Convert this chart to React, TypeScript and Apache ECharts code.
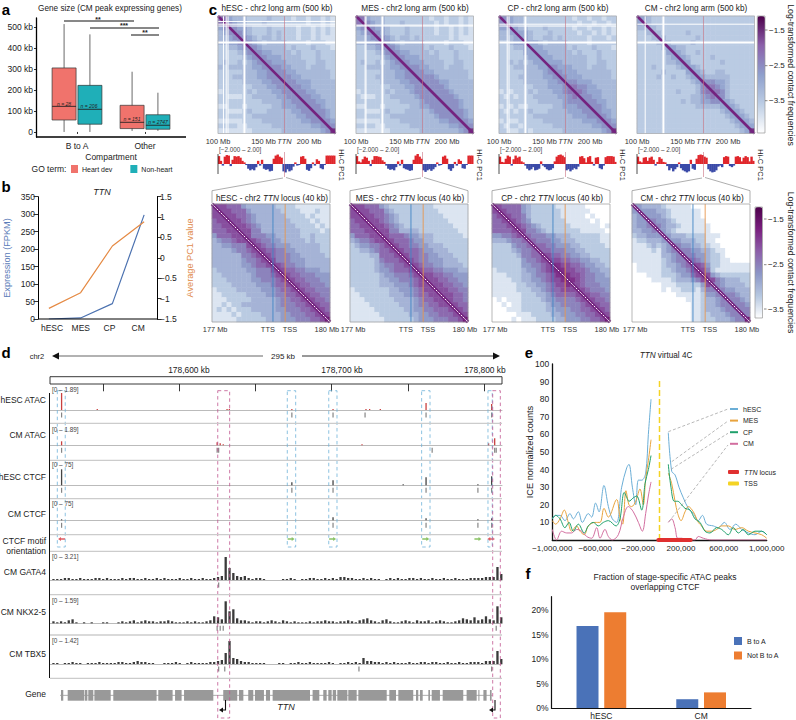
import React, { useEffect, useRef } from "react";
import * as echarts from "echarts";

const F = '"Liberation Sans", Arial, sans-serif';

// ---------- panel a
const compartments = ["B to A", "Other"];
const heartDevBoxes = [[0, 0, 57, 122, 305, 514], [1, 5, 16, 46, 127, 287]];
const nonHeartBoxes = [[0, 0, 37, 108, 222, 465], [1, 5, 13, 32, 82, 187]];
const sizeTicks = [0, 100, 200, 300, 400, 500];

// ---------- panel b
const stages = ["hESC", "MES", "CP", "CM"];
const expressionFpkm = [0, 3, 44, 298];
const averagePc1 = [-1.24, -0.855, 0.29, 0.885];

// ---------- panel c: contact maps, upper triangles, one digit per bin (0 palest, 9 darkest)
const hescArm = ["864333222232222122122121","85433222322222222122121","7544322232222212212121","854322232322212212121","75432332322212212111","8543233332222122211","854333332322232221","85443333232223222","8544433332223222","854443333223322","85544333233322","8554433333332","855443333332","85544433333","8554433333","855443333","85544333","8554433","855433","85543","8543","854","85","8"];
const mesArm = ["864333222222222122122121","85433222322222212122121","7544322232222212212121","854322232222212212121","75432332322222212111","8543233332222122211","854333332322232221","85443333232223222","8544433332223222","854443333223322","85544333233322","8554433333332","855543333332","85554433333","8555433333","855543333","85554333","8555433","855433","85543","8543","854","85","8"];
const cpArm = ["854332222222222122122122","74332222222222212212212","7433222322222122122121","844322232222212212121","64322332322222122212","8443233332222122222","844333332322232221","84433333232223222","8443333333223222","844433333223322","85444333233322","8544433333332","854443333332","85544433333","8655443333","865444333","85544333","8554433","855433","85443","8543","854","85","8"];
const cmArm = ["743222222222222222222222","63222222222222222222222","7322222222222222222222","732222232222222222222","63222222322222222222","7322223222222222222","843322222222222222","84322322222222222","8432222322222222","842222223222222","84322222222222","8432233222222","843333322222","85544322222","8654322222","865322222","85322222","8432222","843222","84322","8432","843","84","8"];
const hescLocus = ["977666433333322221111111","97766643333332222111211","9776654333333222212111","977654333333322221211","97765433333332222121","9775533333333222212","975554433333223222","97655443333323222","9765544433333322","976655443333322","97655544333332","9755544433333","976554433333","97665544433","9766555444","976655544","97665554","9766555","976655","97665","9766","976","97","9"];
const mesLocus = ["977666432222222221111111","97766643222222222111111","9776654322222222211111","977654322222222221111","97765432222222222111","9775533332222222211","976665443332222221","97666544332222222","9766554433322222","976665443332222","97665544333222","9765544433322","976554433332","97665544433","9776655444","977665544","97766554","9776655","977665","97665","9766","976","97","9"];
const cpLocus = ["976666432222211111100000","97666432222221111110000","9766532222221111101000","976542222222111110100","97654322222211111101","9755432222222111110","965554433322222211","96555443332222211","9665544433222221","966555443322222","97665544332222","9776655443322","987766544332","98776654433","9877655443","987655444","97655544","9765554","976655","97665","9766","976","97","9"];
const cmLocus = ["943333211111000000000000","94443321111110000000000","9444321111110000000000","954432111111000000000","95433211111100000000","9432111111100000000","943332222111000000","94433322110000000","9544332211000000","955443321100000","95544322100000","9654322110000","976422111111","97521111111","9743222222","975433322","95433332","9544333","955433","95543","9554","955","95","9"];
const armGapsMb = [[106, 109, 111, 129], [110, 111, 129], [109, 111, 129], [109, 129]];
const armLabels = ["100 Mb", "150 Mb", "{i|TTN}", "200 Mb"];
const armLabelValues = [100, 150, 173, 200];
const locusLabels = ["177 Mb", "TTS", "TSS", "180 Mb"];
const locusLabelValues = [177.08, 178.42, 178.98, 179.92];
const ttnArmMb = 173;
const ttsMb = 178.55;
const tssMb = 178.86;
const pc1Hesc = [15,6,-3,14,17,16,-4,8,15,14,15,12,6,3,-2,-9,-12,-10,-12,-6,6,-3,8,-9,-11,-10,-14,-13,10,16,18,14,12,-14,-16,-10,-14,-12,-5,3,-3,-2,14,15,10,-11,-13,-8,3,-3,9,6,-8,-10,-2,16,16,16,16,16];
const pc1Mes = [15,5,3,9,14,12,6,-4,8,15,15,14,13,7,4,-3,-9,-11,-10,-12,-6,5,-3,8,-8,-10,-11,-13,-12,8,16,19,14,10,-12,-15,-12,-10,-13,-10,-6,3,-3,-2,14,16,10,-10,-13,-8,4,-3,9,6,-8,-9,-2,16,16,16];
const pc1Cp = [14,4,3,10,16,14,-3,9,16,12,14,5,3,-3,-9,-12,-10,-6,-12,-11,-9,5,-3,-6,-10,-12,-11,-8,5,14,17,18,16,13,-12,-10,-14,-11,-8,-10,-5,14,15,11,3,13,15,4,-3,12,13,-8,-10,-3,13,15,15,15,14,4];
const pc1Cm = [14,5,3,12,13,6,12,14,8,-3,4,13,10,4,3,-4,-12,-8,-14,-10,-6,3,-8,-12,-14,-16,-14,8,-9,-11,10,17,18,17,14,12,-10,-14,-16,-15,-12,-5,-3,-6,13,15,14,-4,-6,-3,14,15,13,5,12,15,13,5,14,6];

// ---------- panel d: genome browser (kb)
const genomeMinKb = 178515.4;
const genomeMaxKb = 178811.8;
const rulerTicksKb = [178550, 178600, 178650, 178700, 178750, 178800];
const rulerLabelValues = [178606.5, 178706.9, 178800.6];
const rulerLabels = ["178,600 kb", "178,700 kb", "178,800 kb"];
const hescAtacPeaks = [[178523, 17], [178546.4, 1], [178631.5, 1], [178633, 1], [178674, 1], [178701, 1], [178722.6, 1], [178725, 1], [178732, 1], [178762, 7], [178805, 6]];
const cmAtacPeaks = [[178523, 4], [178625, 3], [178627, 2], [178629, 1], [178720, 1], [178803, 2], [178807, 7]];
const hescCtcfPeaks = [[178523, 16], [178674, 3], [178701, 5], [178762, 8], [178747, 1], [178796, 1], [178805, 9]];
const cmCtcfPeaks = [[178523, 1], [178701, 3], [178762, 2], [178796, 1], [178805, 2]];
const hescAtacCalls = [178523, 178674, 178701, 178722, 178762, 178805];
const cmAtacCalls = [178523, 178625, 178626, 178766, 178807, 178808];
const hescCtcfCalls = [178523, 178674, 178701, 178762, 178796, 178805];
const cmCtcfCalls = [178523, 178701, 178762, 178796, 178805];
const gata4Calls = [178626];
const nkxCalls = [178625, 178627, 178629, 178808];
const tbx5Calls = [178626, 178630, 178718, 178805];
const motifForwardKb = [178673.5, 178700.7, 178761.8, 178796];
const motifReverseKb = [178523, 178804.5];
const trackStepKb = 2.51;
const gata4Signal = [1,1,1,2,2,1,1,2,1,1,1,2,2,1,2,1,1,1,2,1,2,2,1,1,2,1,1,2,1,2,1,1,1,2,1,1,2,1,1,2,1,1,2,3,4,23,12,7,4,3,4,2,1,2,2,1,0,0,0,0,1,1,2,1,0,1,1,2,2,1,1,2,1,2,1,3,3,2,2,1,1,2,1,2,1,1,0,1,2,1,2,1,1,2,2,1,2,1,1,2,1,1,2,1,1,2,1,1,1,2,2,2,2,3,3,3,13,6];
const nkxSignal = [2,1,2,1,3,4,1,0,1,0,1,0,0,1,1,0,0,1,2,1,2,3,1,2,3,2,2,1,2,2,3,2,1,1,1,2,1,2,1,1,2,3,7,6,4,22,12,14,5,3,3,2,1,2,2,1,2,3,2,1,3,2,1,2,1,1,1,2,1,2,2,3,2,2,1,2,2,3,2,1,3,4,5,3,2,1,3,4,2,1,1,2,3,2,1,3,2,2,3,1,2,3,2,1,1,2,3,5,4,3,6,3,4,7,4,3,17,6];
const tbx5Signal = [1,1,0,1,1,2,1,1,0,1,1,1,2,1,1,1,1,2,2,1,1,2,3,2,2,1,1,0,0,1,1,1,2,1,0,1,2,1,1,1,1,2,2,3,4,11,23,6,5,3,2,2,1,1,1,1,0,0,0,1,1,0,1,1,2,1,1,2,1,1,1,1,2,1,0,1,1,2,1,2,1,6,3,3,2,2,1,2,1,2,1,1,1,2,1,1,2,2,1,2,2,1,1,2,1,1,2,1,1,2,2,2,1,3,3,3,13,5];
const ttnExonsKb = [[178522.6,178524.1],[178527,178537.9],[178538.3,178539.9],[178540.5,178543.8],[178544.5,178555.2],[178556.9,178585.3],[178586.4,178595.8],[178597.4,178601.7],[178603.3,178622.5],[178629,178638.2],[178639.3,178642.2],[178645.4,178648.7],[178649.8,178655.7],[178657,178659.7],[178661.4,178685.9],[178687.6,178692],[178694.6,178696.8],[178697.9,178700.1],[178700.8,178703],[178703.8,178710.4],[178711,178716.5],[178717.6,178736.2],[178737.9,178742.3],[178743.8,178753.6],[178755.4,178756.9],[178758,178759.8],[178763.5,178764.6],[178765.7,178771.1],[178772.9,178786.4],[178788.6,178795.2],[178796.3,178797],[178799.6,178801.7],[178803.9,178805]];
const ttnSpanKb = [178522, 178805.5];
const ctcfBoxesKb = [[178520.2,178525.4],[178671,178676.5],[178698.2,178703.6],[178759.1,178764.6],[178802.6,178805.4]];
const enhancerBoxesKb = [[178625.4,178633.2],[178805.7,178810.7]];

// ---------- panel e (x in kb from the TSS)
const hescLeft = [[-1000,12],[-969,14],[-928,14],[-882,11],[-835,15],[-804,12],[-757,16],[-720,10],[-664,15],[-633,13],[-596,21],[-564,16],[-518,31],[-477,19],[-440,12],[-400,10],[-353,30],[-306,41],[-285,43],[-253,30],[-222,20],[-197,34],[-166,34],[-129,38],[-104,60],[-79,80]];
const hescRight = [[82,61],[114,39],[145,37],[182,30],[222,24],[269,18],[316,15],[362,11],[400,14],[440,9],[502,8],[549,7],[605,10],[658,6],[711,9],[767,6],[829,4],[891,3],[953,5],[1000,3]];
const mesLeft = [[-1000,11],[-969,9],[-928,12],[-888,17],[-851,10],[-820,5],[-773,8],[-742,5],[-702,3],[-664,8],[-602,10],[-555,10],[-518,18],[-477,13],[-400,23],[-369,13],[-344,9],[-313,28],[-285,20],[-260,19],[-222,22],[-182,29],[-151,20],[-129,35],[-104,45],[-79,57]];
const mesRight = [[82,38],[114,32],[145,22],[170,15],[201,11],[238,16],[269,19],[316,16],[362,10],[393,8],[440,5],[487,5],[533,6],[580,8],[642,8],[704,6],[767,7],[829,5],[891,4],[953,3],[1000,1]];
const cpLeft = [[-1000,12],[-969,14],[-928,12],[-882,7],[-844,10],[-804,5],[-757,9],[-702,4],[-664,8],[-618,10],[-571,8],[-524,10],[-477,11],[-406,8],[-369,12],[-329,27],[-297,23],[-285,22],[-244,24],[-213,25],[-166,17],[-135,32],[-104,40],[-79,48]];
const cpRight = [[82,43],[107,30],[138,22],[170,22],[207,20],[238,18],[285,17],[331,12],[378,10],[424,5],[471,4],[533,7],[580,6],[642,3],[689,7],[736,4],[782,6],[829,3],[891,5],[953,5],[1000,3]];
const cmLeft = [[-1000,6],[-960,0],[-913,5],[-866,4],[-820,4],[-773,6],[-726,5],[-680,2],[-633,1],[-586,7],[-555,1],[-509,6],[-477,2],[-440,0],[-384,3],[-338,13],[-291,19],[-244,16],[-197,10],[-160,5],[-129,15],[-104,25],[-79,33]];
const cmRight = [[82,10],[114,12],[145,7],[170,1],[207,1],[254,0],[331,0],[362,2],[409,1],[487,0],[1000,0]];
const locusSpanKb = [-11, 291];
const tssLineMax = 90.5;
const e4cLabelValues = [-1000, -600, -200, 200, 600, 1000];

// ---------- panel f
const fGroups = ["hESC", "CM"];
const fBtoA = [16.8, 1.8];
const fNotBtoA = [19.6, 3.2];

const upperColors = ["#ffffff", "#bccde4", "#8e9fcc", "#8b60aa", "#4d004b"];
const lowerColors = ["#ffffff", "#b5c7e0", "#8c96c6", "#8c5fa9", "#7a1f7f", "#4d004b"];

function buildOption() {
  const grids: any[] = [], xAxes: any[] = [], yAxes: any[] = [], series: any[] = [], g: any[] = [];
  const italicRich = (size: number, color = "#222") => ({ i: { fontStyle: "italic", fontSize: size, fontFamily: F, fill: color, color } });

  const T = (x: number, y: number, text: string, size: number, o: any = {}) => g.push({
    type: "text", z: 100, silent: true, x, y, rotation: o.rot || 0,
    style: { text, fontSize: size, fontFamily: F, fill: o.color || "#222", align: o.align || "center", verticalAlign: "middle", fontStyle: o.style || "normal", fontWeight: o.weight || "normal", rich: o.rich ? italicRich(size, o.color || "#222") : undefined },
  });
  const L = (x1: number, y1: number, x2: number, y2: number, color = "#000", w = 1, dash?: number[]) => g.push({
    type: "line", z: 100, silent: true, shape: { x1, y1, x2, y2 }, style: { stroke: color, lineWidth: w, lineDash: dash },
  });
  const PL = (points: number[][], color = "#999", w = 0.8) => g.push({ type: "polyline", z: 100, silent: true, shape: { points }, style: { stroke: color, lineWidth: w, fill: "none" } });
  const PG = (points: number[][], color = "#000") => g.push({ type: "polygon", z: 100, silent: true, shape: { points }, style: { fill: color } });
  const R = (x: number, y: number, width: number, height: number, color = "#999", w = 0.7) => g.push({ type: "rect", z: 100, silent: true, shape: { x, y, width, height }, style: { fill: "none", stroke: color, lineWidth: w } });

  const grid = (left: number, top: number, width: number, height: number) => grids.push({ left, top, width, height, containLabel: false }) - 1;
  const noSplit = { splitLine: { show: false } };

  // panel letters
  T(6, 9, "a", 15, { weight: "bold", color: "#000" });
  T(6, 186, "b", 15, { weight: "bold", color: "#000" });
  T(213, 9, "c", 15, { weight: "bold", color: "#000" });
  T(6, 352, "d", 15, { weight: "bold", color: "#000" });
  T(529, 352, "e", 15, { weight: "bold", color: "#000" });
  T(528, 573, "f", 15, { weight: "bold", color: "#000" });

  // ---- a
  const ga = grid(43, 18, 136, 119);
  const xa = xAxes.push({ type: "category", gridIndex: ga, data: compartments, axisLine: { show: false }, axisTick: { show: true, alignWithLabel: true, length: 2, lineStyle: { color: "#000", width: 0.8 } }, axisLabel: { interval: 0, fontFamily: F, fontSize: 8.5, color: "#222", margin: 4 }, ...noSplit }) - 1;
  const ya = yAxes.push({ type: "value", gridIndex: ga, min: -24, max: 543, offset: 7, axisLine: { show: true, lineStyle: { color: "#000", width: 1.3 } }, axisTick: { show: true, customValues: sizeTicks, length: 2, lineStyle: { color: "#000", width: 0.8 } }, axisLabel: { customValues: sizeTicks, fontFamily: F, fontSize: 8.5, color: "#222", margin: 3, formatter: (v: number) => (v === 0 ? "0" : `${v} kb`) }, ...noSplit }) - 1;
  const boxSeries = (name: string, rows: number[][], color: string, sign: number) => series.push({
    type: "custom", name, xAxisIndex: xa, yAxisIndex: ya, data: rows, encode: { x: 0, y: [1, 2, 3, 4, 5] }, itemStyle: { color }, silent: true,
    renderItem: (_: any, api: any) => {
      const band = api.size([1, 0])[0];
      const cx = api.coord([api.value(0), 0])[0] + sign * 0.19 * band;
      const y = (i: number) => api.coord([0, api.value(i)])[1];
      const w = 24, s = { stroke: "#444", lineWidth: 0.8 };
      return { type: "group", children: [
        { type: "line", shape: { x1: cx, y1: y(1), x2: cx, y2: y(5) }, style: s },
        { type: "rect", shape: { x: cx - w / 2, y: y(4), width: w, height: y(2) - y(4) }, style: { fill: color, stroke: "#333", lineWidth: 0.7 } },
        { type: "line", shape: { x1: cx - w / 2, y1: y(3), x2: cx + w / 2, y2: y(3) }, style: { stroke: "#222", lineWidth: 0.9 } },
      ] };
    },
  });
  boxSeries("Heart dev", heartDevBoxes, "#F0736C", -1);
  boxSeries("Non-heart", nonHeartBoxes, "#1FAFB8", 1);
  L(36, 137, 186, 137, "#000", 1.3);
  T(110, 8, "Gene size (CM peak expressing genes)", 8.2);
  T(111, 157, "Compartment", 8.5);
  T(49, 169, "GO term:", 8.5);
  T(64, 104, "n = 28", 5, { style: "italic" });
  T(89, 106, "n = 206", 5, { style: "italic" });
  T(132, 119, "n = 151", 5, { style: "italic" });
  T(158, 122, "n = 2747", 5, { style: "italic" });
  L(64, 21, 134, 21, "#111", 1); T(98, 19, "**", 7, { weight: "bold" });
  L(90, 28, 159, 28, "#111", 1); T(124, 25, "***", 7, { weight: "bold" });
  L(131, 35, 159, 35, "#111", 1); T(145, 32, "**", 7, { weight: "bold" });

  // ---- b
  const gb = grid(33, 196.7, 127, 122.3);
  const xb = xAxes.push({ type: "category", gridIndex: gb, data: stages, axisLine: { show: false }, axisTick: { show: false }, axisLabel: { show: false }, ...noSplit }) - 1;
  const axisB = { type: "value", gridIndex: gb, axisLine: { show: true, lineStyle: { color: "#000", width: 1 } }, axisTick: { show: true, length: 4.5, lineStyle: { color: "#000", width: 0.8 } }, ...noSplit };
  const yb1 = yAxes.push({ ...axisB, min: 0, max: 350, interval: 50, offset: -5, axisLabel: { fontFamily: F, fontSize: 8.5, color: "#222", margin: 3 } }) - 1;
  const yb2 = yAxes.push({ ...axisB, position: "right", min: -1.5, max: 1.5, interval: 0.5, offset: -3, axisLabel: { fontFamily: F, fontSize: 8.5, color: "#222", margin: 3, formatter: (v: number) => String(v).replace("-", "−") } }) - 1;
  series.push({ type: "line", xAxisIndex: xb, yAxisIndex: yb1, data: expressionFpkm, symbol: "none", lineStyle: { color: "#4C72B0", width: 1.2 }, silent: true });
  series.push({ type: "line", xAxisIndex: xb, yAxisIndex: yb2, data: averagePc1, symbol: "none", lineStyle: { color: "#E58A44", width: 1.2 }, silent: true });
  const gbl = grid(37.7, 196.7, 114.8, 122.3);
  xAxes.push({ type: "category", gridIndex: gbl, data: stages, axisLine: { show: false }, axisTick: { show: false }, axisLabel: { interval: 0, fontFamily: F, fontSize: 8.5, color: "#222", margin: 4 }, ...noSplit });
  yAxes.push({ type: "value", gridIndex: gbl, show: false, ...noSplit });
  L(38, 319, 157, 319, "#000", 1);
  T(102, 192, "TTN", 9, { style: "italic" });
  T(7, 258, "Expression (FPKM)", 9.2, { rot: Math.PI / 2, color: "#5B7CB8" });
  T(190, 258, "Average PC1 value", 9.2, { rot: Math.PI / 2, color: "#E08C4E" });

  // ---- c helpers
  const upperIdx: number[] = [], lowerIdx: number[] = [];
  const bins = Array.from({ length: 24 }, (_, i) => String(i));
  const decode = (rows: string[], v0: number, step: number) => {
    const out: number[][] = [];
    rows.forEach((row, i) => {
      for (let k = 0; k < row.length; k++) {
        // the diagonal itself is drawn as a line; its bin takes the tone of its neighbour
        const digit = k === 0 && row.length > 1 ? row[1] : row[k];
        const val = v0 + Number(digit) * step;
        out.push([i + k, i, val]);
        if (k) out.push([i, i + k, val]);
      }
    });
    return out;
  };
  const addMap = (left: number, top: number, size: number, rows: string[], dmin: number, dmax: number, customValues: number[], labels: string[], v0: number, step: number, bucket: number[]) => {
    const gi = grid(left, top, size, size);
    const xc = xAxes.push({ type: "category", gridIndex: gi, show: false, data: bins }) - 1;
    const yc = yAxes.push({ type: "category", gridIndex: gi, show: false, inverse: true, data: bins }) - 1;
    const xv = xAxes.push({ type: "value", gridIndex: gi, min: dmin, max: dmax, position: "bottom", axisLine: { show: false }, axisTick: { show: false }, ...noSplit,
      axisLabel: { customValues, fontFamily: F, fontSize: 7.4, color: "#333", margin: 4, hideOverlap: false, rich: { i: { fontStyle: "italic", fontSize: 7.4, fontFamily: F, color: "#333" } }, formatter: (v: number) => labels[customValues.indexOf(v)] ?? "" } }) - 1;
    const yv = yAxes.push({ type: "value", gridIndex: gi, min: dmin, max: dmax, inverse: true, show: false, ...noSplit }) - 1;
    bucket.push(series.push({ type: "heatmap", xAxisIndex: xc, yAxisIndex: yc, data: decode(rows, v0, step), silent: true, progressive: 0, itemStyle: { borderWidth: 0 } }) - 1);
    series.push({ type: "line", xAxisIndex: xv, yAxisIndex: yv, data: [[dmin, dmin], [dmax, dmax]], symbol: "none", lineStyle: { color: "#74237F", width: bucket === upperIdx ? 2.6 : 3.6 }, silent: true });
    return { xv, yv };
  };
  const vline = (ax: any, name: string, value: number, a: number, b: number, color: string, width: number) => series.push({ type: "line", xAxisIndex: ax.xv, yAxisIndex: ax.yv, data: [[value, a], [value, b]], symbol: "none", lineStyle: { color, width }, silent: true });
  const hline = (ax: any, value: number, a: number, b: number, color: string, width: number) => series.push({ type: "line", xAxisIndex: ax.xv, yAxisIndex: ax.yv, data: [[a, value], [b, value]], symbol: "none", lineStyle: { color, width }, silent: true });

  const armPanels = [
    { name: "hESC", left: 218, rows: hescArm, pc1: pc1Hesc },
    { name: "MES", left: 356, rows: mesArm, pc1: pc1Mes },
    { name: "CP", left: 499, rows: cpArm, pc1: pc1Cp },
    { name: "CM", left: 637, rows: cmArm, pc1: pc1Cm },
  ];
  armPanels.forEach((p, idx) => {
    const ax = addMap(p.left, 16, 117.5, p.rows, 100, 229, armLabelValues, armLabels, -4.2, 0.33, upperIdx);
    armGapsMb[idx].forEach((m) => {
      const w = m === 129 ? 2 : 1;
      vline(ax, "", m, 100, 229, "#ffffff", w);
      hline(ax, m, 100, 229, "#ffffff", w);
    });
    vline(ax, "", ttnArmMb, 100, 229, "#C9707F", 0.6);
    R(p.left, 16, 117.5, 117.5, "#aaa");
    T(p.left + 59, 8.3, `${p.name} - chr2 long arm (500 kb)`, 8.2);
    T(p.left + 1, 149, "[−2.000 – 2.00]", 6.3, { align: "left", color: "#444" });
    // PC1
    const gt = grid(p.left, 154, 117.5, 20);
    const xt = xAxes.push({ type: "category", gridIndex: gt, show: false, data: p.pc1.map((_, i) => String(i)) }) - 1;
    const yt = yAxes.push({ type: "value", gridIndex: gt, show: false, min: -1.9, max: 1.9, ...noSplit }) - 1;
    series.push({ type: "bar", xAxisIndex: xt, yAxisIndex: yt, data: p.pc1.map((v) => v / 10), barWidth: 2.4, silent: true, itemStyle: { color: (d: any) => (d.value > 0 ? "#E0262B" : "#3A4AA8") } });
    L(p.left, 154, p.left, 174, "#222", 0.8);
    L(p.left + 66.5, 152, p.left + 66.5, 177, "#C9707F", 0.6);
    T(p.left + 123.5, 165, "Hi-C PC1", 7.5, { rot: -Math.PI / 2 });
  });

  const locusPanels = [
    { name: "hESC", left: 212, rows: hescLocus },
    { name: "MES", left: 350, rows: mesLocus },
    { name: "CP", left: 492, rows: cpLocus },
    { name: "CM", left: 632, rows: cmLocus },
  ];
  locusPanels.forEach((p) => {
    const ax = addMap(p.left, 204, 118, p.rows, 177, 180, locusLabelValues, locusLabels, -3.7, 0.23, lowerIdx);
    series.push({ type: "line", xAxisIndex: ax.xv, yAxisIndex: ax.yv, data: [[177, 177], [180, 180]], symbol: "none", lineStyle: { color: "#ffffff", width: 1, type: [2, 1.2] }, silent: true });
    vline(ax, "", ttsMb, 177, 180, "#3F86C4", 0.9);
    vline(ax, "", tssMb, 177, 180, "#E8964F", 0.9);
    R(p.left, 204, 118, 118, "#999");
    T(p.left + 60, 198, `${p.name} - chr2 {i|TTN} locus (40 kb)`, 8.2, { rich: true });
    const tip = armPanels[locusPanels.indexOf(p)].left + 66.5;
    PL([[p.left, 203], [p.left, 190.7], [tip - 1.5, 178]]);
    PL([[p.left + 118, 203], [p.left + 118, 190.7], [tip + 1.5, 177.5]]);
  });

  // colour bars
  const cbTick = (x: number, y: number, t: string) => { L(x - 3, y, x - 0.5, y, "#555", 0.7); T(x + 1, y, t, 8, { align: "left" }); };
  R(757.3, 16, 7.7, 117, "#999");
  cbTick(768, 30, "−1.5"); cbTick(768, 65.7, "−2.5"); cbTick(768, 100.7, "−3.5");
  T(791, 75, "Log-transformed contact frequencies", 8.7, { rot: -Math.PI / 2 });
  R(755, 207, 7.5, 111, "#999");
  cbTick(767, 219, "−1.5"); cbTick(767, 264.7, "−2.5"); cbTick(767, 309, "−3.5");
  T(791, 262.5, "Log-transformed contact frequencies", 8.7, { rot: -Math.PI / 2 });

  // ---- d
  const dL = 50, dW = 452;
  T(37, 356, "chr2", 7.5);
  L(56, 356, 263, 356, "#666", 1.2); PG([[52, 356], [59, 352.5], [59, 359.5]], "#111");
  T(283, 356, "295 kb", 8);
  L(302, 356, 495, 356, "#333", 1); PG([[500, 356], [493, 352.5], [493, 359.5]], "#111");

  const gr = grid(dL, 376.7, dW, 7.3);
  grids[gr].show = true; grids[gr].borderColor = "#222"; grids[gr].borderWidth = 0.9;
  xAxes.push({ type: "value", gridIndex: gr, min: genomeMinKb, max: genomeMaxKb, position: "top", axisLine: { show: false }, axisTick: { show: true, customValues: rulerTicksKb, inside: true, length: 7.3, lineStyle: { color: "#222", width: 0.9 } }, ...noSplit,
    axisLabel: { customValues: rulerLabelValues, fontFamily: F, fontSize: 8.4, color: "#222", margin: 3, hideOverlap: false, formatter: (v: number) => rulerLabels[rulerLabelValues.indexOf(v)] ?? "" } });
  yAxes.push({ type: "value", gridIndex: gr, show: false, ...noSplit });

  const track = (top: number, base: number, bottom: number, showBase = true) => {
    const gi = grid(dL, top, dW, bottom - top);
    const x = xAxes.push({ type: "value", gridIndex: gi, min: genomeMinKb, max: genomeMaxKb, axisLine: { show: showBase, onZero: true, lineStyle: { color: "#bbb", width: 1 } }, axisTick: { show: false }, axisLabel: { show: false }, ...noSplit }) - 1;
    const y = yAxes.push({ type: "value", gridIndex: gi, show: false, min: -(bottom - base), max: base - top, ...noSplit }) - 1;
    return { x, y };
  };
  const bars = (t: any, data: number[][], color: string, w: number) => series.push({ type: "bar", xAxisIndex: t.x, yAxisIndex: t.y, data, barWidth: w, silent: true, itemStyle: { color }, clip: false });
  const calls = (t: any, kb: number[]) => series.push({ type: "scatter", xAxisIndex: t.x, yAxisIndex: t.y, data: kb.map((k) => [k, -5]), symbol: "rect", symbolSize: [1.2, 5], silent: true, itemStyle: { color: "#666" } });
  const dense = (v: number[]) => v.map((h, i) => [genomeMinKb + (i + 0.9) * trackStepKb, h]);

  const t1 = track(392, 410, 420); bars(t1, hescAtacPeaks, "#C9403F", 1.3); calls(t1, hescAtacCalls);
  const t2 = track(432, 445.3, 455); bars(t2, cmAtacPeaks, "#C9403F", 1.3); calls(t2, cmAtacCalls);
  const t3 = track(466, 485.3, 495); bars(t3, hescCtcfPeaks, "#444", 1.3); calls(t3, hescCtcfCalls);
  const t4 = track(505, 520.3, 530); bars(t4, cmCtcfPeaks, "#444", 1.3); calls(t4, cmCtcfCalls);
  const t5 = track(534, 539, 546, false);
  const arrowPath = "path://M0 3H7V0L12 5L7 10V7H0Z";
  series.push({ type: "scatter", xAxisIndex: t5.x, yAxisIndex: t5.y, data: motifForwardKb.map((k) => [k, 0]), symbol: arrowPath, symbolSize: [7, 4], silent: true, itemStyle: { color: "#6DB33F" } });
  series.push({ type: "scatter", xAxisIndex: t5.x, yAxisIndex: t5.y, data: motifReverseKb.map((k) => [k, 0]), symbol: arrowPath, symbolRotate: 180, symbolSize: [7, 4], silent: true, itemStyle: { color: "#D8323A" } });
  const t6 = track(557, 580, 590); bars(t6, dense(gata4Signal), "#3a3a3a", 2.3); calls(t6, gata4Calls);
  const t7 = track(601, 623.3, 633); bars(t7, dense(nkxSignal), "#3a3a3a", 2.3); calls(t7, nkxCalls);
  const t8 = track(641, 664, 674); bars(t8, dense(tbx5Signal), "#3a3a3a", 2.3); calls(t8, tbx5Calls);

  const t9g = grid(dL, 690, dW, 10.7);
  const t9x = xAxes.push({ type: "value", gridIndex: t9g, min: genomeMinKb, max: genomeMaxKb, show: false, ...noSplit }) - 1;
  const t9y = yAxes.push({ type: "value", gridIndex: t9g, min: 0, max: 1, show: false, ...noSplit }) - 1;
  series.push({ type: "line", xAxisIndex: t9x, yAxisIndex: t9y, data: ttnSpanKb.map((k) => [k, 0.5]), symbol: "none", silent: true, lineStyle: { color: "#999", width: 0.8 } });
  series.push({ type: "custom", xAxisIndex: t9x, yAxisIndex: t9y, data: ttnExonsKb, silent: true, encode: { x: [0, 1] },
    renderItem: (_: any, api: any) => {
      const a = api.coord([api.value(0), 1]), b = api.coord([api.value(1), 0]);
      return { type: "rect", shape: { x: a[0], y: a[1], width: Math.max(b[0] - a[0], 0.8), height: b[1] - a[1] }, style: { fill: "#999" } };
    } });

  const dashedBoxes = (top: number, bottom: number, rows: number[][], stroke: string) => {
    const gi = grid(dL, top, dW, bottom - top);
    const x = xAxes.push({ type: "value", gridIndex: gi, min: genomeMinKb, max: genomeMaxKb, show: false, ...noSplit }) - 1;
    const y = yAxes.push({ type: "value", gridIndex: gi, min: 0, max: 1, show: false, ...noSplit }) - 1;
    series.push({ type: "custom", xAxisIndex: x, yAxisIndex: y, data: rows, silent: true, z: 8, encode: { x: [0, 1] },
      renderItem: (_: any, api: any) => {
        const a = api.coord([api.value(0), 1]), b = api.coord([api.value(1), 0]);
        return { type: "rect", shape: { x: a[0], y: a[1], width: b[0] - a[0], height: b[1] - a[1] }, style: { fill: "none", stroke, lineWidth: 0.8, lineDash: [3.5, 3] } };
      } });
  };
  dashedBoxes(390.7, 547, ctcfBoxesKb, "#6FB3D9");
  dashedBoxes(390.7, 718, enhancerBoxesKb, "#C0558F");

  [["hESC ATAC", 400], ["CM ATAC", 435], ["hESC CTCF", 477], ["CM CTCF", 514.3], ["CTCF motif", 541], ["orientation", 551], ["CM GATA4", 572], ["CM NKX2-5", 612], ["CM TBX5", 654], ["Gene", 694]].forEach(([t, y]) => T(46, y as number, t as string, 8.5, { align: "right" }));
  [["[0 – 1.89]", 389], ["[0 – 1.89]", 429.3], ["[0 – 75]", 464.3], ["[0 – 75]", 503.7], ["[0 – 3.21]", 556.7], ["[0 – 1.59]", 600], ["[0 – 1.42]", 640]].forEach(([t, y]) => T(52, y as number, t as string, 6.4, { align: "left", color: "#444" }));
  L(49.5, 393, 49.5, 678, "#111", 1);
  [423.3, 460.3, 498.7, 534.7, 551.3, 594.7, 635, 678.3].forEach((y) => L(50, y, 502, y, "#ccc", 1.3));
  T(286, 707, "TTN", 9, { style: "italic" });
  [[225.5, 219], [495, 489]].forEach(([x, xe]) => { PL([[x, 700], [x, 710], [xe + 3, 710]], "#111", 1.1); PG([[xe, 710], [xe + 4, 707.5], [xe + 4, 712.5]], "#111"); });

  // ---- e
  const ge = grid(552.3, 364, 214.4, 176);
  const xe = xAxes.push({ type: "value", gridIndex: ge, min: -1000, max: 1000, axisLine: { show: true, onZero: false, lineStyle: { color: "#111", width: 1.3 } }, axisTick: { show: false }, ...noSplit,
    axisLabel: { customValues: e4cLabelValues, fontFamily: F, fontSize: 8, color: "#222", margin: 4, hideOverlap: false, formatter: (v: number) => (v < 0 ? "−" : "") + Math.abs(v).toLocaleString("en-US") + ",000" } }) - 1;
  const ye = yAxes.push({ type: "value", gridIndex: ge, min: 0, max: 100, axisLine: { show: true, onZero: false, lineStyle: { color: "#111", width: 1.3 } }, axisTick: { show: false }, ...noSplit,
    axisLabel: { customValues: [10, 20, 30, 40, 50, 60, 70, 80, 90, 100], fontFamily: F, fontSize: 8.5, color: "#222", margin: 3 } }) - 1;
  const e4c = (name: string, data: number[][], color: string) => series.push({ type: "line", name, xAxisIndex: xe, yAxisIndex: ye, data, smooth: 0.35, symbol: "none", silent: true, itemStyle: { color }, lineStyle: { color, width: 1 } });
  e4c("hESC", hescLeft, "#6BAED6"); e4c("hESC", hescRight, "#6BAED6");
  e4c("MES", mesLeft, "#E8A33D"); e4c("MES", mesRight, "#E8A33D");
  e4c("CM", cmLeft, "#D26E9F"); e4c("CM", cmRight, "#D26E9F");
  e4c("CP", cpLeft, "#1FA06B"); e4c("CP", cpRight, "#1FA06B");
  series.push({ type: "line", name: "TTN locus", xAxisIndex: xe, yAxisIndex: ye, data: locusSpanKb.map((k) => [k, 0]), symbol: "none", silent: true, itemStyle: { color: "#E03030" }, lineStyle: { color: "#E03030", width: 4, cap: "round" }, clip: false, z: 5 });
  series.push({ type: "line", name: "TSS", xAxisIndex: xe, yAxisIndex: ye, data: [[0, 0], [0, tssLineMax]], symbol: "none", silent: true, itemStyle: { color: "#F4D324" }, lineStyle: { color: "#F4D324", width: 1.5, type: [6, 3] } });
  T(666, 355, "{i|TTN} virtual 4C", 8.2, { rich: true });
  T(530, 452, "ICE normalized counts", 9.2, { rot: Math.PI / 2 });
  const dash = [3, 2];
  L(668.3, 431.7, 728, 409, "#999", 0.7, dash);
  L(671.7, 461.7, 728, 421, "#999", 0.7, dash);
  L(671, 469.3, 728, 433.3, "#999", 0.7, dash);
  L(669, 521.7, 728, 445, "#999", 0.7, dash);

  // ---- f
  const gf = grid(551.5, 596.7, 199.5, 112.3);
  const xf = xAxes.push({ type: "category", gridIndex: gf, data: fGroups, axisLine: { show: true, lineStyle: { color: "#111", width: 1.2 } }, axisTick: { show: false }, axisLabel: { fontFamily: F, fontSize: 8.5, color: "#222", margin: 3 }, ...noSplit }) - 1;
  const yf = yAxes.push({ type: "value", gridIndex: gf, min: 0, max: 22.8, axisLine: { show: true, lineStyle: { color: "#111", width: 1.2 } }, axisTick: { show: false }, ...noSplit,
    axisLabel: { customValues: [0, 5, 10, 15, 20], fontFamily: F, fontSize: 8.5, color: "#222", margin: 3, formatter: (v: number) => `${v}%` } }) - 1;
  series.push({ type: "bar", name: "B to A", xAxisIndex: xf, yAxisIndex: yf, data: fBtoA, barWidth: 22, barGap: "26%", silent: true, itemStyle: { color: "#4A72B8" } });
  series.push({ type: "bar", name: "Not B to A", xAxisIndex: xf, yAxisIndex: yf, data: fNotBtoA, barWidth: 22, barGap: "26%", silent: true, itemStyle: { color: "#ED7D31" } });
  T(665, 576.7, "Fraction of stage-specific ATAC peaks", 8.5);
  T(665, 587.3, "overlapping CTCF", 8.5);

  const legendBase = { selectedMode: false, padding: 0, textStyle: { fontFamily: F, color: "#222" } };
  return {
    animation: false,
    backgroundColor: "#ffffff",
    grid: grids,
    xAxis: xAxes,
    yAxis: yAxes,
    series,
    graphic: { elements: g },
    legend: [
      { ...legendBase, data: ["Heart dev", "Non-heart"], left: 71, top: 165, orient: "horizontal", itemWidth: 7, itemHeight: 8, itemGap: 18, icon: "rect", textStyle: { fontFamily: F, color: "#222", fontSize: 7, padding: [0, 0, 0, -1] } },
      { ...legendBase, data: ["hESC", "MES", "CP", "CM"], left: 730, top: 405, orient: "vertical", itemWidth: 8, itemHeight: 2, itemGap: 3.6, icon: "rect", textStyle: { fontFamily: F, color: "#222", fontSize: 7, lineHeight: 8 } },
      { ...legendBase, data: ["TTN locus", "TSS"], left: 728, top: 468, orient: "vertical", itemWidth: 11, itemHeight: 4, itemGap: 3.6, icon: "roundRect", formatter: (n: string) => (n === "TTN locus" ? "{i|TTN} locus" : n), textStyle: { fontFamily: F, color: "#222", fontSize: 7, lineHeight: 8, rich: { i: { fontStyle: "italic", fontSize: 7, fontFamily: F, color: "#222" } } } },
      { ...legendBase, data: ["B to A", "Not B to A"], left: 734, top: 637, orient: "vertical", itemWidth: 8, itemHeight: 8, itemGap: 6.5, icon: "rect", textStyle: { fontFamily: F, color: "#222", fontSize: 7 } },
    ],
    visualMap: [
      { type: "continuous", seriesIndex: upperIdx, min: -4.4, max: -1.1, left: 757.3, top: 16, itemWidth: 7.7, itemHeight: 117, padding: 0, calculable: false, hoverLink: false, inRange: { color: upperColors }, textStyle: { fontSize: 0 } },
      { type: "continuous", seriesIndex: lowerIdx, min: -3.7, max: -1.24, left: 755, top: 207, itemWidth: 7.5, itemHeight: 111, padding: 0, calculable: false, hoverLink: false, inRange: { color: lowerColors }, textStyle: { fontSize: 0 } },
    ],
  };
}

export default function App() {
  const ref = useRef<HTMLDivElement>(null);
  useEffect(() => {
    const chart = echarts.init(ref.current!, undefined, { renderer: "svg" });
    chart.setOption(buildOption() as any);
    return () => chart.dispose();
  }, []);
  return <div ref={ref} style={{ position: "absolute", left: 0, top: 0, width: 796, height: 720 }} />;
}
